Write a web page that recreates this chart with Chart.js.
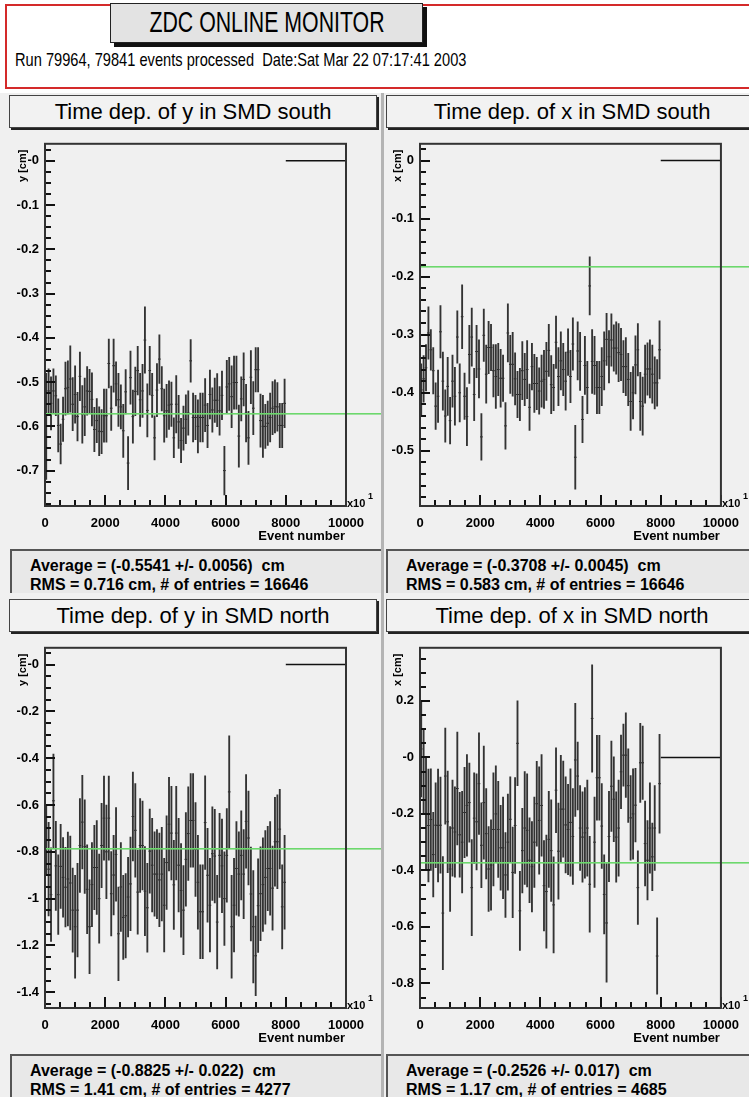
<!DOCTYPE html>
<html>
<head>
<meta charset="utf-8">
<script src="https://cdn.jsdelivr.net/npm/chart.js@4.4.0/dist/chart.umd.min.js"></script>
<style>
body { margin: 0; width: 749px; height: 1097px; position: relative; overflow: hidden; background: #fff; font-family: "Liberation Sans", Arial, sans-serif; }
.abs { position: absolute; }
#hdr { left: 5px; top: 4px; width: 760px; height: 81px; border: 2px solid #d42a2a; background: #fff; }
#mainTitle { left: 110px; top: 3px; width: 311px; height: 38px; background: #e3e3e3; border: 1px solid #222; box-shadow: 4px 4px 0 #111; overflow: hidden; }
#mainTitle span { position: absolute; left: 50%; top: 1px; font-size: 30px; line-height: 34px; white-space: nowrap; transform: translateX(-50%) scaleX(0.71); }
#runInfo { left: 15px; top: 49px; font-size: 19px; white-space: nowrap; transform-origin: left center; transform: scaleX(0.77); }
.col { top: 93px; height: 1004px; background: #f0f0f0; }
.sep { left: 381px; top: 93px; width: 3px; height: 1004px; background: #b4b4b4; }
.ptitle { height: 31px; background: #f2f2f2; border: 1px solid #444; box-shadow: 2px 2px 0 #222; font-size: 22px; text-align: center; line-height: 31px; white-space: nowrap; }
.stats { height: 44px; background: #e8e8e8; border-top: 2px solid #555; border-left: 2px solid #555; font-size: 16px; font-weight: bold; line-height: 19px; padding: 5px 0 0 18px; box-sizing: border-box; white-space: nowrap; }
canvas { position: absolute; }
</style>
</head>
<body>
<div id="hdr" class="abs"></div>
<div id="mainTitle" class="abs"><span>ZDC ONLINE MONITOR</span></div>
<div id="runInfo" class="abs">Run 79964, 79841 events processed&nbsp; Date:Sat Mar 22 07:17:41 2003</div>

<div class="abs col" style="left:0;width:381px"></div>
<div class="abs col" style="left:384px;width:365px"></div>
<div class="abs sep"></div>

<div class="abs ptitle" style="left:9px;top:95px;width:366px">Time dep. of y in SMD south</div>
<div class="abs ptitle" style="left:386px;top:95px;width:370px">Time dep. of x in SMD south</div>
<div class="abs ptitle" style="left:9px;top:599px;width:366px">Time dep. of y in SMD north</div>
<div class="abs ptitle" style="left:386px;top:599px;width:370px">Time dep. of x in SMD north</div>

<div class="abs stats" style="left:10px;top:549px;width:371px">Average = (-0.5541 +/- 0.0056)&nbsp; cm<br>RMS = 0.716 cm, # of entries = 16646</div>
<div class="abs stats" style="left:386px;top:549px;width:363px">Average = (-0.3708 +/- 0.0045)&nbsp; cm<br>RMS = 0.583 cm, # of entries = 16646</div>
<div class="abs stats" style="left:10px;top:1054px;width:371px">Average = (-0.8825 +/- 0.022)&nbsp; cm<br>RMS = 1.41 cm, # of entries = 4277</div>
<div class="abs stats" style="left:386px;top:1054px;width:363px">Average = (-0.2526 +/- 0.017)&nbsp; cm<br>RMS = 1.17 cm, # of entries = 4685</div>

<canvas id="ySouth" width="381" height="416" style="left:0;top:130px"></canvas>
<canvas id="xSouth" width="364" height="416" style="left:385px;top:130px"></canvas>
<canvas id="yNorth" width="381" height="414" style="left:0;top:634px"></canvas>
<canvas id="xNorth" width="364" height="414" style="left:385px;top:634px"></canvas>

<script>
// event number axis (units of 10 events), histogram bins are 80 wide
const binWidth = 80;
const xTicks = [0, 2000, 4000, 6000, 8000, 10000];
const xTickLabels = ['0', '2000', '4000', '6000', '8000', '10000'];
const emptyRange = [8000, 10000];

// y in SMD south
const ySouthVals = [
    -0.600, -0.520, -0.548, -0.520, -0.531, -0.598, -0.640, -0.584, -0.515, -0.512,
    -0.493, -0.550, -0.528, -0.578, -0.487, -0.573, -0.556, -0.520, -0.521, -0.539,
    -0.607, -0.587, -0.611, -0.612, -0.576, -0.576, -0.458, -0.559, -0.463, -0.504,
    -0.540, -0.556, -0.610, -0.522, -0.683, -0.490, -0.578, -0.521, -0.474, -0.540,
    -0.520, -0.405, -0.564, -0.474, -0.530, -0.626, -0.518, -0.448, -0.515, -0.576,
    -0.565, -0.552, -0.550, -0.626, -0.550, -0.590, -0.632, -0.604, -0.584, -0.570,
    -0.452, -0.580, -0.580, -0.600, -0.580, -0.580, -0.552, -0.598, -0.528, -0.563,
    -0.541, -0.541, -0.565, -0.530, -0.700, -0.511, -0.504, -0.533, -0.501, -0.501,
    -0.622, -0.538, -0.494, -0.570, -0.626, -0.489, -0.559, -0.472, -0.472, -0.587,
    -0.600, -0.600, -0.593, -0.580, -0.559, -0.555, -0.556, -0.598, -0.598, -0.548
];
const ySouthErrs = [
    0.120, 0.050, 0.060, 0.050, 0.045, 0.060, 0.045, 0.050, 0.060, 0.060,
    0.075, 0.060, 0.065, 0.055, 0.055, 0.065, 0.065, 0.055, 0.050, 0.060,
    0.050, 0.050, 0.055, 0.050, 0.060, 0.060, 0.055, 0.050, 0.060, 0.050,
    0.060, 0.050, 0.060, 0.050, 0.060, 0.060, 0.060, 0.055, 0.055, 0.060,
    0.060, 0.075, 0.060, 0.055, 0.050, 0.050, 0.060, 0.055, 0.050, 0.060,
    0.060, 0.055, 0.050, 0.045, 0.065, 0.060, 0.050, 0.050, 0.055, 0.050,
    0.048, 0.055, 0.050, 0.060, 0.055, 0.055, 0.060, 0.050, 0.055, 0.050,
    0.050, 0.060, 0.055, 0.055, 0.055, 0.060, 0.060, 0.070, 0.060, 0.060,
    0.070, 0.050, 0.060, 0.065, 0.060, 0.060, 0.060, 0.050, 0.050, 0.060,
    0.070, 0.050, 0.050, 0.055, 0.060, 0.060, 0.055, 0.050, 0.050, 0.055
];
const ySouthMean = -0.571;
const ySouthTicks = [0, -0.1, -0.2, -0.3, -0.4, -0.5, -0.6, -0.7];
const ySouthTickLabels = ['-0', '-0.1', '-0.2', '-0.3', '-0.4', '-0.5', '-0.6', '-0.7'];

// x in SMD south
const xSouthVals = [
    -0.395, -0.376, -0.357, -0.297, -0.326, -0.362, -0.423, -0.406, -0.295, -0.380,
    -0.440, -0.389, -0.448, -0.380, -0.406, -0.304, -0.400, -0.269, -0.406, -0.441,
    -0.334, -0.304, -0.403, -0.329, -0.359, -0.476, -0.301, -0.368, -0.322, -0.322,
    -0.362, -0.372, -0.360, -0.375, -0.375, -0.457, -0.297, -0.351, -0.351, -0.376,
    -0.403, -0.403, -0.362, -0.377, -0.360, -0.425, -0.355, -0.384, -0.384, -0.397,
    -0.380, -0.377, -0.363, -0.327, -0.386, -0.391, -0.313, -0.372, -0.345, -0.360,
    -0.380, -0.330, -0.372, -0.316, -0.511, -0.328, -0.346, -0.446, -0.353, -0.391,
    -0.216, -0.346, -0.353, -0.391, -0.391, -0.372, -0.345, -0.308, -0.338, -0.309,
    -0.323, -0.323, -0.331, -0.334, -0.355, -0.355, -0.377, -0.415, -0.400, -0.352,
    -0.326, -0.415, -0.423, -0.368, -0.359, -0.359, -0.368, -0.383, -0.383, -0.326
];
const xSouthErrs = [
    0.045, 0.040, 0.040, 0.045, 0.035, 0.040, 0.040, 0.045, 0.045, 0.050,
    0.045, 0.050, 0.040, 0.045, 0.050, 0.045, 0.050, 0.055, 0.040, 0.050,
    0.050, 0.050, 0.045, 0.045, 0.050, 0.040, 0.045, 0.050, 0.045, 0.040,
    0.045, 0.055, 0.045, 0.050, 0.040, 0.040, 0.050, 0.050, 0.055, 0.045,
    0.040, 0.045, 0.050, 0.045, 0.050, 0.040, 0.040, 0.050, 0.045, 0.040,
    0.045, 0.050, 0.050, 0.045, 0.050, 0.040, 0.045, 0.050, 0.050, 0.045,
    0.050, 0.040, 0.045, 0.045, 0.055, 0.050, 0.050, 0.040, 0.050, 0.045,
    0.050, 0.055, 0.050, 0.045, 0.045, 0.050, 0.050, 0.045, 0.045, 0.045,
    0.040, 0.045, 0.050, 0.045, 0.045, 0.050, 0.045, 0.050, 0.045, 0.050,
    0.045, 0.050, 0.050, 0.050, 0.045, 0.050, 0.050, 0.045, 0.040, 0.050
];
const xSouthMean = -0.183;
const xSouthTicks = [0, -0.1, -0.2, -0.3, -0.4, -0.5];
const xSouthTickLabels = ['0', '-0.1', '-0.2', '-0.3', '-0.4', '-0.5'];

// y in SMD north
const yNorthVals = [
    -0.750, -0.874, -0.983, -0.582, -0.860, -0.983, -0.862, -0.909, -0.951, -0.916,
    -0.933, -1.049, -1.120, -1.049, -0.773, -0.673, -0.778, -0.960, -1.120, -0.940,
    -0.867, -0.867, -1.000, -0.773, -0.656, -0.800, -0.656, -0.979, -0.899, -0.811,
    -1.150, -0.950, -1.080, -1.073, -0.993, -0.937, -0.649, -0.708, -0.972, -0.773,
    -0.773, -0.968, -1.039, -0.797, -0.857, -0.895, -0.895, -0.920, -0.895, -1.028,
    -0.846, -0.682, -0.720, -0.941, -0.720, -0.857, -0.965, -1.049, -0.832, -0.722,
    -0.666, -0.666, -0.790, -0.930, -1.056, -1.056, -0.675, -0.900, -1.028, -0.808,
    -0.818, -1.100, -0.815, -0.860, -1.000, -0.815, -0.544, -1.120, -1.028, -0.871,
    -0.895, -0.815, -0.895, -0.670, -0.741, -0.980, -1.120, -1.244, -1.030, -0.979,
    -0.940, -0.909, -0.871, -0.871, -0.955, -0.757, -0.757, -0.703, -1.035, -0.930
];
const yNorthErrs = [
    0.15, 0.20, 0.20, 0.20, 0.19, 0.17, 0.18, 0.17, 0.17, 0.20,
    0.20, 0.18, 0.22, 0.20, 0.20, 0.20, 0.20, 0.19, 0.20, 0.18,
    0.18, 0.20, 0.19, 0.18, 0.18, 0.20, 0.18, 0.18, 0.17, 0.20,
    0.20, 0.19, 0.18, 0.18, 0.17, 0.20, 0.19, 0.20, 0.18, 0.20,
    0.19, 0.19, 0.19, 0.18, 0.20, 0.18, 0.19, 0.20, 0.20, 0.20,
    0.20, 0.20, 0.20, 0.19, 0.20, 0.20, 0.20, 0.19, 0.20, 0.20,
    0.20, 0.20, 0.20, 0.20, 0.20, 0.20, 0.20, 0.20, 0.20, 0.20,
    0.20, 0.20, 0.18, 0.20, 0.20, 0.20, 0.24, 0.22, 0.20, 0.20,
    0.18, 0.19, 0.19, 0.20, 0.20, 0.20, 0.24, 0.17, 0.20, 0.20,
    0.20, 0.20, 0.18, 0.20, 0.18, 0.19, 0.20, 0.17, 0.18, 0.20
];
const yNorthMean = -0.790;
const yNorthTicks = [0, -0.2, -0.4, -0.6, -0.8, -1, -1.2, -1.4];
const yNorthTickLabels = ['-0', '-0.2', '-0.4', '-0.6', '-0.8', '-1', '-1.2', '-1.4'];

// x in SMD north
const xNorthVals = [
     0.030, -0.050, -0.200, -0.241, -0.220, -0.344, -0.240, -0.241, -0.240, -0.551,
    -0.066, -0.228, -0.395, -0.250, -0.264, -0.110, -0.274, -0.300, -0.195, -0.170,
    -0.160, -0.461, -0.215, -0.228, -0.093, -0.311, -0.160, -0.270, -0.395, -0.381,
    -0.255, -0.200, -0.255, -0.320, -0.320, -0.416, -0.300, -0.219, -0.407, -0.241,
     0.050, -0.543, -0.330, -0.250, -0.258, -0.364, -0.387, -0.300, -0.164, -0.223,
    -0.170, -0.454, -0.475, -0.290, -0.330, -0.522, -0.116, -0.332, -0.183, -0.183,
    -0.239, -0.255, -0.230, -0.280, -0.009, -0.066, -0.250, -0.282, -0.267, -0.250,
    -0.449,  0.138, -0.300, -0.072, -0.072, -0.243, -0.485, -0.586, -0.280, -0.102,
    -0.148, -0.282, -0.250, -0.051,  0.008,  0.008, -0.100, -0.214, -0.200, -0.169,
    -0.461, -0.019, -0.019, -0.305, -0.364, -0.250, -0.352, -0.250, -0.703, -0.093
];
const xNorthErrs = [
    0.17, 0.15, 0.20, 0.20, 0.18, 0.15, 0.15, 0.20, 0.17, 0.20,
    0.17, 0.18, 0.15, 0.17, 0.16, 0.20, 0.15, 0.18, 0.16, 0.18,
    0.14, 0.17, 0.16, 0.17, 0.18, 0.15, 0.20, 0.16, 0.15, 0.16,
    0.20, 0.17, 0.17, 0.15, 0.18, 0.15, 0.17, 0.15, 0.16, 0.17,
    0.15, 0.14, 0.15, 0.20, 0.20, 0.15, 0.16, 0.16, 0.15, 0.19,
    0.18, 0.16, 0.20, 0.17, 0.18, 0.17, 0.15, 0.17, 0.19, 0.17,
    0.17, 0.16, 0.19, 0.17, 0.20, 0.12, 0.15, 0.16, 0.16, 0.17,
    0.17, 0.19, 0.16, 0.15, 0.15, 0.15, 0.14, 0.21, 0.16, 0.16,
    0.15, 0.16, 0.17, 0.13, 0.11, 0.15, 0.13, 0.15, 0.16, 0.13,
    0.13, 0.14, 0.13, 0.15, 0.14, 0.16, 0.12, 0.15, 0.135, 0.175
];
const xNorthMean = -0.374;
const xNorthTicks = [0.2, 0, -0.2, -0.4, -0.6, -0.8];
const xNorthTickLabels = ['0.2', '-0', '-0.2', '-0.4', '-0.6', '-0.8'];

Chart.defaults.font.family = '"Liberation Sans", Arial, sans-serif';
Chart.defaults.color = '#000';

function binCenter(i) {
    return binWidth * i + binWidth / 2;
}

// ROOT style frame: inward ticks, mean line, axis titles
const rootFrame = {
    id: 'rootFrame',
    afterDatasetsDraw(chart, args, o) {
        const ctx = chart.ctx;
        const a = chart.chartArea;
        const py = chart.scales.y.getPixelForValue(o.mean);
        ctx.save();
        ctx.fillStyle = '#6cd86c';
        ctx.fillRect(a.left, Math.round(py) - 1, chart.width - a.left, 1.6);
        ctx.restore();
    },
    afterDraw(chart, args, o) {
        const ctx = chart.ctx;
        const a = chart.chartArea;
        const xs = chart.scales.x, ys = chart.scales.y;
        ctx.save();
        ctx.fillStyle = '#111';
        const first = Math.ceil(ys.min / o.yMinor - 1e-6);
        const last = Math.floor(ys.max / o.yMinor + 1e-6);
        const perMajor = Math.round(o.yMajor / o.yMinor);
        for (let k = first; k <= last; k++) {
            const py = Math.round(ys.getPixelForValue(k * o.yMinor));
            const len = (k % perMajor === 0) ? 10 : 6;
            ctx.fillRect(a.left, py - 1, len, 2);
        }
        for (let k = 0; k <= 20; k++) {
            const px = Math.round(xs.getPixelForValue(k * 500));
            const len = (k % 4 === 0) ? 11 : 6;
            ctx.fillRect(px - 1, a.bottom - len, 2, len);
        }
        ctx.strokeStyle = '#333';
        ctx.lineWidth = 2;
        ctx.strokeRect(a.left, a.top, a.right - a.left, a.bottom - a.top);

        ctx.fillStyle = '#000';
        ctx.font = 'bold 13px "Liberation Sans", Arial, sans-serif';
        ctx.textAlign = 'right';
        ctx.textBaseline = 'alphabetic';
        ctx.fillText('Event number', a.right - 1, a.bottom + 34);
        ctx.textAlign = 'left';
        ctx.font = 'bold 11px "Liberation Sans", Arial, sans-serif';
        ctx.fillText('x10', a.right + 1, a.bottom + 1);
        ctx.font = 'bold 9px "Liberation Sans", Arial, sans-serif';
        ctx.fillText('1', a.right + 22, a.bottom - 7);

        ctx.translate(a.left - 22, a.top + 22);
        ctx.rotate(-Math.PI / 2);
        ctx.textAlign = 'center';
        ctx.textBaseline = 'middle';
        ctx.font = 'bold 11px "Liberation Sans", Arial, sans-serif';
        ctx.fillText(o.yTitle, 0, 0);
        ctx.restore();
    }
};

function createPanel(id, vals, errs, mean, yMin, yMax, yTicks, yTickLabels, yMinor, yMajor, yTitle, yWidth, padRight) {
    const ctx = document.getElementById(id).getContext('2d');
    const bars = vals.map((v, i) => ({x: binCenter(i), y: [v - errs[i], v + errs[i]]}));
    const points = vals.map((v, i) => ({x: binCenter(i), y: v}));

    return new Chart(ctx, {
        type: 'bar',
        data: {
            datasets: [{
                type: 'bar',
                data: bars,
                backgroundColor: '#333',
                barThickness: 1.2,
                grouped: false,
                borderWidth: 0
            }, {
                type: 'scatter',
                data: points,
                pointStyle: 'line',
                pointRadius: 1.3,
                borderColor: '#000',
                borderWidth: 1
            }, {
                type: 'line',
                data: emptyRange.map(x => ({x: x, y: 0})),
                borderColor: '#111',
                borderWidth: 1.5,
                pointRadius: 0
            }]
        },
        options: {
            responsive: false,
            animation: false,
            devicePixelRatio: 1,
            events: [],
            layout: { padding: { left: 0, right: padRight, top: 8, bottom: 0 } },
            plugins: {
                legend: { display: false },
                tooltip: { enabled: false },
                rootFrame: { mean: mean, yMinor: yMinor, yMajor: yMajor, yTitle: yTitle }
            },
            scales: {
                x: {
                    type: 'linear',
                    min: 0,
                    max: 10000,
                    offset: false,
                    grid: { display: false, drawTicks: false, tickLength: 0 },
                    border: { display: false },
                    afterBuildTicks: axis => { axis.ticks = xTicks.map(v => ({value: v})); },
                    afterFit: axis => { axis.height = 40; },
                    ticks: {
                        autoSkip: false,
                        maxRotation: 0,
                        padding: 10,
                        font: { size: 13, weight: 'bold' },
                        callback: (v, i) => xTickLabels[i]
                    }
                },
                y: {
                    min: yMin,
                    max: yMax,
                    grid: { display: false, drawTicks: false, tickLength: 0 },
                    border: { display: false },
                    afterBuildTicks: axis => { axis.ticks = yTicks.map(v => ({value: v})); },
                    afterFit: axis => { axis.width = yWidth; },
                    ticks: {
                        autoSkip: false,
                        padding: 6,
                        font: { size: 13, weight: 'bold' },
                        callback: (v, i) => yTickLabels[i]
                    }
                }
            }
        },
        plugins: [rootFrame]
    });
}

createPanel('ySouth', ySouthVals, ySouthErrs, ySouthMean, -0.78, 0.0385, ySouthTicks, ySouthTickLabels, 0.025, 0.1, 'y [cm]', 45, 35);
createPanel('xSouth', xSouthVals, xSouthErrs, xSouthMean, -0.595, 0.0288, xSouthTicks, xSouthTickLabels, 0.02, 0.1, 'x [cm]', 35, 28);
createPanel('yNorth', yNorthVals, yNorthErrs, yNorthMean, -1.467, 0.0715, yNorthTicks, yNorthTickLabels, 0.05, 0.2, 'y [cm]', 45, 35);
createPanel('xNorth', xNorthVals, xNorthErrs, xNorthMean, -0.887, 0.388, xNorthTicks, xNorthTickLabels, 0.05, 0.2, 'x [cm]', 35, 28);
</script>
</body>
</html>
